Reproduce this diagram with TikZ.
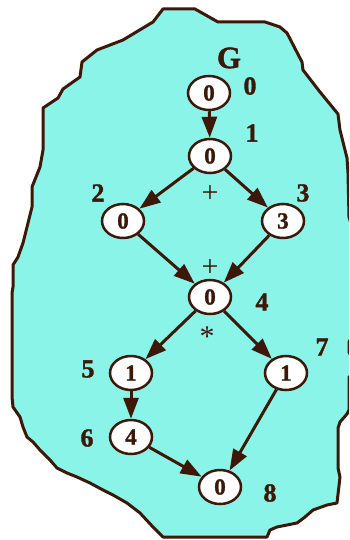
\documentclass[tikz,border=0pt]{standalone}
\usepackage{fontspec}
\setmainfont{Liberation Serif}
\newfontfamily\heavyfont{Liberation Serif}[BoldFeatures={FakeBold=1.3}]
\usetikzlibrary{arrows.meta,shapes.geometric}
\definecolor{brn}{RGB}{61,24,8}
\definecolor{cyanfill}{RGB}{138,244,233}
\tikzset{
  vtx/.style={ellipse,draw=brn,line width=2.5pt,fill=white,minimum width=42pt,minimum height=34pt,inner sep=0pt,text=brn,font=\heavyfont\fontsize{23}{23}\selectfont\bfseries},
  lbl/.style={text=brn,inner sep=0pt,font=\heavyfont\fontsize{26}{26}\selectfont\bfseries},
  opl/.style={text=brn,inner sep=0pt,font=\fontsize{30}{30}\selectfont},
  arr/.style={draw=brn,line width=3pt,-{Triangle[length=21pt,width=15pt]}},
}
\begin{document}
\begin{tikzpicture}[x=1pt,y=-1pt]
\useasboundingbox (0,0) rectangle (349,540);
\begin{scope}
\clip (0,0) rectangle (349,540);
\draw[brn,line width=3pt,fill=cyanfill,line join=round]
 (163,9) -- (195,9) -- (218,22) -- (265,22) -- (280,27) -- (287,33) -- (302,62) -- (303,70) -- (320,92) -- (338,114) -- (340,130) -- (345,150) -- (347,158) -- (348,173) -- (349,217) -- (353,230) -- (353,335) -- (349,342) -- (349,352) -- (353,360) -- (353,375) -- (349,377) -- (349,410) -- (347,414) -- (340,422) -- (338,428) -- (338,468) -- (340,477) -- (337,503) -- (327,505) -- (313,510) -- (305,517) -- (297,523) -- (277,527) -- (270,530) -- (267,537) -- (163,537) -- (153,527) -- (140,513) -- (127,503) -- (113,495) -- (103,490) -- (90,483) -- (77,477) -- (67,473) -- (57,468) -- (50,460) -- (40,450) -- (33,442) -- (27,437) -- (23,427) -- (20,417) -- (13,407) -- (12,397) -- (12,293) -- (13,287) -- (13,265) -- (18,257) -- (23,243) -- (32,207) -- (32,187) -- (40,167) -- (43,150) -- (43,108) -- (58,98) -- (63,89) -- (80,77) -- (82,62) -- (97,50) -- (123,40) -- (153,22) -- cycle;
\end{scope}
\node[vtx] (n0) at (209,93) {0};
\node[vtx] (n1) at (210,156) {0};
\node[vtx] (n2) at (123,221) {0};
\node[vtx] (n3) at (283,221) {3};
\node[vtx] (n4) at (210,297) {0};
\node[vtx] (n5) at (131,373) {1};
\node[vtx] (n7) at (286,373) {1};
\node[vtx] (n6) at (131,437) {4};
\node[vtx] (n8) at (220,487) {0};
\node[lbl,font=\heavyfont\fontsize{31}{31}\selectfont\bfseries] (g) at (229,58) {G};
\node[lbl] (l0) at (250,86) {0};
\node[lbl] (l1) at (252,133) {1};
\node[lbl] (l2) at (98,193) {2};
\node[lbl] (l3) at (303,193) {3};
\node[lbl] (l4) at (262,302) {4};
\node[lbl] (l5) at (88,369) {5};
\node[lbl] (l6) at (87,438) {6};
\node[lbl] (l7) at (322,347) {7};
\node[lbl] (l8) at (270,493) {8};
\node[opl] (p1) at (210,194) {+};
\node[opl] (p2) at (210,268) {+};
\node[opl] (st) at (207,337) {*};
\draw[arr] (n0) -- (n1);
\draw[arr] (n1) -- (n2);
\draw[arr] (n1) -- (n3);
\draw[arr] (n2) -- (n4);
\draw[arr] (n3) -- (n4);
\draw[arr] (n4) -- (n5);
\draw[arr] (n4) -- (n7);
\draw[arr] (n5) -- (n6);
\draw[arr] (n6) -- (n8);
\draw[arr] (n7) -- (n8);
\end{tikzpicture}
\end{document}
